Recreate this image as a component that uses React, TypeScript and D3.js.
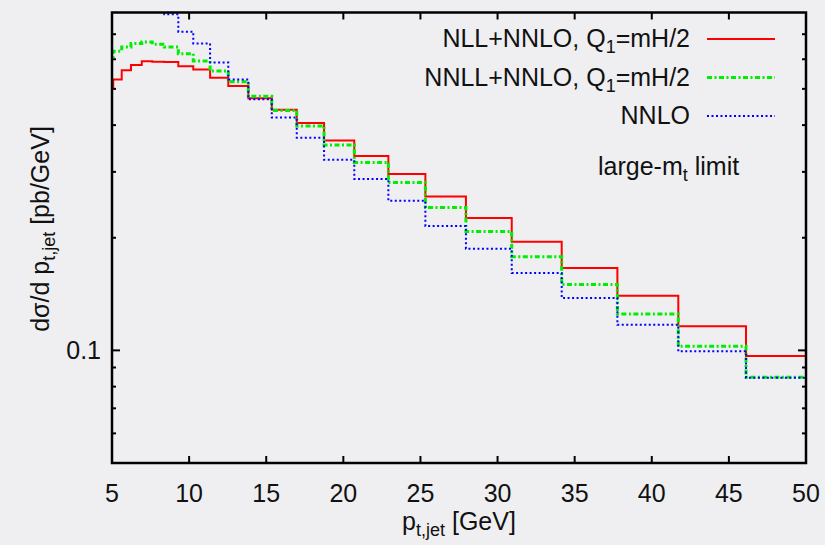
import React from "react";
import * as d3 from "d3";

// bin edges in p_t,jet [GeV] (log-spaced histogram)
const binEdges = [4.6, 5.08, 5.63, 6.23, 6.93, 7.61, 8.39, 9.3, 10.27, 11.36, 12.54, 13.84, 15.36, 16.98, 18.75, 20.71, 22.92, 25.32, 27.95, 30.92, 34.16, 37.77, 41.72, 46.11, 50.95];

// d sigma / d p_t,jet [pb/GeV], one value per bin
const nllNnlo = [0.504, 0.53, 0.561, 0.579, 0.593, 0.591, 0.59, 0.575, 0.563, 0.535, 0.509, 0.472, 0.44, 0.405, 0.364, 0.331, 0.296, 0.258, 0.226, 0.195, 0.166, 0.14, 0.116, 0.0966];
const nnllNnlo = [0.603, 0.63, 0.647, 0.661, 0.667, 0.658, 0.647, 0.621, 0.594, 0.558, 0.522, 0.478, 0.438, 0.398, 0.354, 0.318, 0.281, 0.241, 0.208, 0.178, 0.15, 0.125, 0.1025, 0.0848];
// first bins are above the top of the frame
const nnlo = [null, null, null, null, null, 0.9, 0.791, 0.711, 0.661, 0.588, 0.53, 0.469, 0.419, 0.37, 0.323, 0.287, 0.251, 0.215, 0.187, 0.161, 0.138, 0.117, 0.0994, 0.0845];

const xTicks = [5, 10, 15, 20, 25, 30, 35, 40, 45, 50];
const yMajor = [0.1];
const yMinor = [0.06, 0.07, 0.08, 0.09, 0.2, 0.3, 0.4, 0.5, 0.6, 0.7];

const W = 825;
const H = 545;
const left = 112;
const right = 806;
const top = 12.5;
const bottom = 463;
const font = "'Liberation Sans', Arial, Helvetica, sans-serif";

const x = d3.scaleLinear().domain([5, 50]).range([left, right]);
const y = d3.scaleLog().domain([0.05, 0.8]).range([bottom, top]);

type Pt = [number, number | null];

const stepLine = d3
  .line<Pt>()
  .defined(d => d[1] != null)
  .x(d => x(d[0]))
  .y(d => y(d[1] as number))
  .curve(d3.curveStepAfter);

const toPoints = (vals: (number | null)[]): Pt[] => {
  const pts: Pt[] = vals.map((v, i) => [binEdges[i], v]);
  pts.push([binEdges[vals.length], vals[vals.length - 1]]);
  return pts;
};

const series = [
  { label: "NLL+NNLO, Q", sub: "1", rest: "=mH/2", values: nllNnlo, color: "#ff0000", width: 2, dash: undefined },
  { label: "NNLL+NNLO, Q", sub: "1", rest: "=mH/2", values: nnllNnlo, color: "#00ee00", width: 3, dash: "5 2.5 2 2.5" },
  { label: "NNLO", sub: "", rest: "", values: nnlo, color: "#0000ff", width: 2, dash: "2 2.5" },
];

export default function App() {
  return (
    <svg
      width={W}
      height={H}
      style={{ position: "absolute", left: 0, top: 0, display: "block" }}
      fontFamily={font}
    >
      <rect x={0} y={0} width={W} height={H} fill="#efeff1" />
      <defs>
        <clipPath id="plot">
          <rect x={left} y={top} width={right - left} height={bottom - top} />
        </clipPath>
      </defs>

      {/* ticks, drawn inward on all four sides */}
      <g stroke="#000" strokeWidth={2}>
        {xTicks.slice(1, -1).map(t => (
          <g key={"x" + t}>
            <line x1={x(t)} x2={x(t)} y1={bottom} y2={bottom - 7} />
            <line x1={x(t)} x2={x(t)} y1={top} y2={top + 7} />
          </g>
        ))}
        {yMajor.map(t => (
          <g key={"ym" + t}>
            <line x1={left} x2={left + 8} y1={y(t)} y2={y(t)} />
            <line x1={right} x2={right - 8} y1={y(t)} y2={y(t)} />
          </g>
        ))}
        {yMinor.map(t => (
          <g key={"yn" + t}>
            <line x1={left} x2={left + 4} y1={y(t)} y2={y(t)} />
            <line x1={right} x2={right - 4} y1={y(t)} y2={y(t)} />
          </g>
        ))}
      </g>

      <g clipPath="url(#plot)" fill="none">
        {series.map(s => (
          <path
            key={s.label + s.color}
            d={stepLine(toPoints(s.values)) || ""}
            stroke={s.color}
            strokeWidth={s.width}
            strokeDasharray={s.dash}
          />
        ))}
      </g>

      <rect
        x={left}
        y={top}
        width={right - left}
        height={bottom - top}
        fill="none"
        stroke="#000"
        strokeWidth={2.5}
      />

      {/* tick labels */}
      <g fontSize={25} fill="#111">
        {xTicks.map(t => (
          <text key={"xl" + t} x={x(t)} y={502} textAnchor="middle">
            {t}
          </text>
        ))}
        {yMajor.map(t => (
          <text key={"yl" + t} x={101} y={y(t) + 9} textAnchor="end">
            {t}
          </text>
        ))}
      </g>

      {/* axis titles */}
      <text x={(left + right) / 2} y={530} textAnchor="middle" fontSize={25} fill="#111">
        p<tspan fontSize={18} dy={6}>t,jet</tspan>
        <tspan dy={-6}> [GeV]</tspan>
      </text>
      <text
        transform={`translate(49,229) rotate(-90)`}
        textAnchor="middle"
        fontSize={25}
        fill="#111"
      >
        dσ/d p<tspan fontSize={18} dy={6}>t,jet</tspan>
        <tspan dy={-6}> [pb/GeV]</tspan>
      </text>

      {/* legend */}
      <g fontSize={25} fill="#111">
        {series.map((s, i) => {
          const ly = 39 + i * 38.5;
          return (
            <g key={"lg" + i}>
              <text x={690} y={ly + 8} textAnchor="end">
                {s.label}
                {s.sub && (
                  <tspan fontSize={18} dy={6}>
                    {s.sub}
                  </tspan>
                )}
                {s.rest && <tspan dy={-6}>{s.rest}</tspan>}
              </text>
              <line
                x1={707}
                x2={775}
                y1={ly}
                y2={ly}
                stroke={s.color}
                strokeWidth={s.width}
                strokeDasharray={s.dash}
              />
            </g>
          );
        })}
        <text x={598} y={175}>
          large-m<tspan fontSize={18} dy={6}>t</tspan>
          <tspan dy={-6}> limit</tspan>
        </text>
      </g>
    </svg>
  );
}
